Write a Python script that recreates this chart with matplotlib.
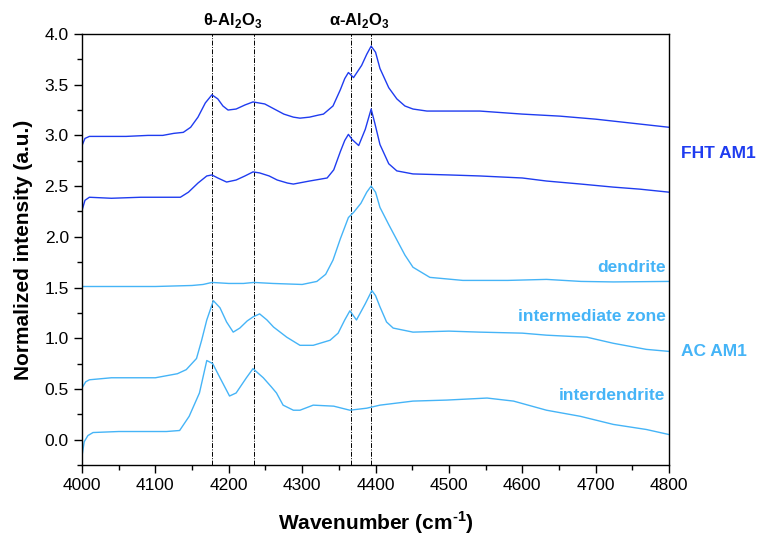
import matplotlib.pyplot as plt
from matplotlib.ticker import MultipleLocator

plt.rcParams['font.family'] = ['Liberation Sans', 'DejaVu Sans']
plt.rcParams['mathtext.fontset'] = 'custom'
plt.rcParams['mathtext.rm'] = 'Liberation Sans:bold'
plt.rcParams['mathtext.bf'] = 'Liberation Sans:bold'

# FHT AM1, upper spectrum
fht1_x = [4000, 4004, 4010, 4030, 4060, 4090, 4110, 4125, 4138, 4148, 4158, 4168, 4177,
          4185, 4192, 4199, 4210, 4222, 4233, 4249, 4262, 4275, 4288, 4297, 4310, 4322,
          4329, 4342, 4352, 4358, 4363, 4370, 4381, 4388, 4394, 4400, 4406, 4418, 4429,
          4440, 4451, 4470, 4500, 4542, 4600, 4651, 4700, 4750, 4800]
fht1_y = [2.90, 2.97, 2.99, 2.99, 2.99, 3.00, 3.00, 3.02, 3.03, 3.08, 3.18, 3.32, 3.40,
          3.36, 3.29, 3.25, 3.26, 3.30, 3.33, 3.31, 3.26, 3.21, 3.18, 3.17, 3.18, 3.20,
          3.21, 3.29, 3.45, 3.56, 3.62, 3.57, 3.69, 3.80, 3.88, 3.82, 3.66, 3.47, 3.36,
          3.29, 3.26, 3.24, 3.24, 3.24, 3.21, 3.19, 3.16, 3.12, 3.08]

# FHT AM1, lower spectrum
fht2_x = [4000, 4004, 4010, 4040, 4080, 4120, 4134, 4145, 4158, 4170, 4177, 4185,
          4197, 4210, 4222, 4233, 4242, 4255, 4266, 4280, 4288, 4310, 4334, 4343,
          4352, 4358, 4363, 4368, 4377, 4386, 4394, 4399, 4406, 4418, 4429, 4451,
          4500, 4542, 4600, 4633, 4680, 4724, 4760, 4800]
fht2_y = [2.26, 2.36, 2.39, 2.38, 2.39, 2.39, 2.39, 2.44, 2.53, 2.60, 2.61, 2.58,
          2.54, 2.56, 2.60, 2.64, 2.63, 2.60, 2.56, 2.53, 2.52, 2.55, 2.58, 2.66,
          2.84, 2.95, 3.01, 2.96, 2.90, 3.06, 3.26, 3.12, 2.91, 2.72, 2.65, 2.62,
          2.61, 2.60, 2.58, 2.55, 2.52, 2.49, 2.47, 2.44]

# AC AM1, dendrite
dend_x = [4000, 4050, 4100, 4150, 4165, 4177, 4200, 4220, 4234, 4260, 4300, 4320,
          4332, 4342, 4352, 4363, 4370, 4380, 4388, 4394, 4400, 4406, 4418, 4429,
          4440, 4451, 4474, 4519, 4580, 4633, 4680, 4724, 4800]
dend_y = [1.51, 1.51, 1.51, 1.52, 1.53, 1.55, 1.54, 1.54, 1.55, 1.54, 1.53, 1.56,
          1.63, 1.77, 1.98, 2.19, 2.24, 2.33, 2.44, 2.50, 2.44, 2.29, 2.12, 1.97,
          1.82, 1.70, 1.60, 1.57, 1.57, 1.58, 1.56, 1.555, 1.56]

# AC AM1, intermediate zone
inter_x = [4000, 4005, 4010, 4040, 4080, 4100, 4115, 4130, 4142, 4156, 4163, 4170,
           4179, 4188, 4197, 4206, 4215, 4225, 4233, 4242, 4252, 4261, 4279, 4297,
           4315, 4338, 4349, 4358, 4365, 4374, 4386, 4395, 4400, 4406, 4415, 4424,
           4451, 4500, 4542, 4600, 4633, 4688, 4724, 4769, 4800]
inter_y = [0.51, 0.57, 0.59, 0.61, 0.61, 0.61, 0.63, 0.65, 0.69, 0.80, 0.98, 1.18,
           1.37, 1.30, 1.16, 1.06, 1.10, 1.17, 1.21, 1.24, 1.18, 1.11, 1.01, 0.93,
           0.93, 0.98, 1.05, 1.18, 1.27, 1.18, 1.34, 1.47, 1.42, 1.31, 1.16, 1.10,
           1.06, 1.07, 1.06, 1.05, 1.03, 1.01, 0.95, 0.89, 0.87]

# AC AM1, interdendrite
idend_x = [4000, 4003, 4008, 4015, 4050, 4080, 4115, 4133, 4146, 4160, 4170, 4178,
           4188, 4201, 4210, 4224, 4233, 4247, 4258, 4265, 4274, 4288, 4297, 4315,
           4343, 4365, 4388, 4406, 4451, 4497, 4552, 4588, 4633, 4679, 4724, 4769, 4800]
idend_y = [-0.16, -0.02, 0.04, 0.07, 0.08, 0.08, 0.08, 0.09, 0.23, 0.46, 0.78, 0.75,
           0.61, 0.43, 0.46, 0.61, 0.70, 0.61, 0.52, 0.46, 0.34, 0.29, 0.29, 0.34,
           0.33, 0.29, 0.31, 0.34, 0.38, 0.39, 0.41, 0.38, 0.29, 0.23, 0.15, 0.10, 0.05]

peak_pos = [4177, 4234, 4366, 4394]

dark_blue = '#1f3cf0'
light_blue = '#45b4f7'

fig = plt.figure(figsize=(7.61, 5.36), dpi=100)
ax = fig.add_axes([0.1078, 0.1325, 0.7714, 0.8041])

# dash-dot guide lines at the alumina peak positions
for p in peak_pos:
    ax.axvline(p, color='black', linestyle=(0, (5, 1.5, 1, 1.5)), linewidth=0.7, zorder=1)

ax.plot(fht1_x, fht1_y, color=dark_blue, lw=1.0, zorder=2)
ax.plot(fht2_x, fht2_y, color=dark_blue, lw=1.0, zorder=2)
ax.plot(dend_x, dend_y, color=light_blue, lw=1.0, zorder=2)
ax.plot(inter_x, inter_y, color=light_blue, lw=1.0, zorder=2)
ax.plot(idend_x, idend_y, color=light_blue, lw=1.0, zorder=2)

ax.set_xlim(4000, 4800)
ax.set_ylim(-0.25, 4.0)
ax.xaxis.set_major_locator(MultipleLocator(100))
ax.xaxis.set_minor_locator(MultipleLocator(50))
ax.yaxis.set_major_locator(MultipleLocator(0.5))
ax.yaxis.set_minor_locator(MultipleLocator(0.25))
ax.tick_params(which='both', direction='out', top=False, right=False, width=1.0)
ax.tick_params(which='major', length=6, labelsize=12.5)
ax.tick_params(which='minor', length=3.5)
for s in ax.spines.values():
    s.set_linewidth(1.0)

ax.set_xlabel('Wavenumber (cm$^{\\text{-1}}$)', fontsize=15, fontweight='bold', labelpad=12)
ax.set_ylabel('Normalized intensity (a.u.)', fontsize=15, fontweight='bold', labelpad=8)

ax.text(4205, 4.04, 'θ-Al$_{2}$O$_{3}$', ha='center', va='bottom', fontsize=12, fontweight='bold')
ax.text(4378, 4.04, 'α-Al$_{2}$O$_{3}$', ha='center', va='bottom', fontsize=12, fontweight='bold')

ax.text(4795, 1.70, 'dendrite', ha='right', va='center', fontsize=12.5, fontweight='bold', color=light_blue)
ax.text(4795, 1.21, 'intermediate zone', ha='right', va='center', fontsize=12.5, fontweight='bold', color=light_blue)
ax.text(4795, 0.44, 'interdendrite', ha='right', va='center', fontsize=12.5, fontweight='bold', color=light_blue)
ax.text(1.02, 2.82, 'FHT AM1', transform=ax.get_yaxis_transform(), ha='left', va='center',
        fontsize=12.5, fontweight='bold', color=dark_blue)
ax.text(1.02, 0.87, 'AC AM1', transform=ax.get_yaxis_transform(), ha='left', va='center',
        fontsize=12.5, fontweight='bold', color=light_blue)

plt.savefig('out.png', dpi=100)
